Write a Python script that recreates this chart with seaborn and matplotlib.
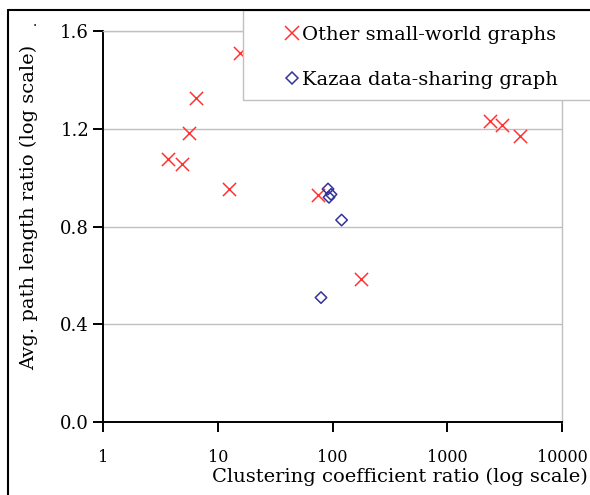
import matplotlib
matplotlib.use("Agg")
import matplotlib.pyplot as plt
import seaborn as sns
import pandas as pd
from matplotlib.patches import Rectangle
from matplotlib.lines import Line2D

# ---- data ----
other_cc = [3.7, 4.9, 5.6, 6.5, 12.5, 15.6, 75.5, 177, 2360, 2980, 4300]
other_pl = [1.077, 1.056, 1.182, 1.328, 0.954, 1.51, 0.93, 0.586, 1.234, 1.216, 1.171]
kazaa_cc = [91.4, 97.1, 93.2, 120, 79.4]
kazaa_pl = [0.954, 0.932, 0.920, 0.827, 0.510]
series_names = ["Other small-world graphs", "Kazaa data-sharing graph"]
x_ticks = [1, 10, 100, 1000, 10000]
x_ticklabels = ["1", "10", "100", "1000", "10000"]
y_ticks = [0.0, 0.4, 0.8, 1.2, 1.6]

df_other = pd.DataFrame({"cc": other_cc, "pl": other_pl})
df_kazaa = pd.DataFrame({"cc": kazaa_cc, "pl": kazaa_pl})

sns.set_theme(style="white")
plt.rcParams["font.family"] = ["DejaVu Serif"]
plt.rcParams["text.color"] = "black"

W, H = 590, 495
fig = plt.figure(figsize=(W / 100, H / 100), dpi=100)
ax = fig.add_axes([103 / W, 1 - 422.3 / H, (562 - 103) / W, (422.3 - 31) / H])

RED = "#FF3333"
BLUE = "#333399"

sns.scatterplot(data=df_other, x="cc", y="pl", ax=ax, marker="x", s=90,
                color=RED, linewidth=1.1, label=series_names[0], zorder=3)
sns.scatterplot(data=df_kazaa, x="cc", y="pl", ax=ax, marker="D", s=34,
                facecolors="none", edgecolor=BLUE, linewidth=1.1,
                label=series_names[1], zorder=3)

ax.set_xscale("log")
ax.set_xlim(1, 10000)
ax.set_ylim(0, 1.6)
ax.set_xticks(x_ticks)
ax.set_xticklabels(x_ticklabels)
ax.minorticks_off()
ax.set_yticks(y_ticks)
ax.set_yticklabels([f"{v:.1f}" for v in y_ticks])
ax.yaxis.grid(True, color="#C0C0C0", linewidth=1.0)
ax.xaxis.grid(False)
ax.set_axisbelow(True)

for s in ["left", "bottom"]:
    ax.spines[s].set_color("black")
    ax.spines[s].set_linewidth(1.4)
ax.spines["right"].set_color("#C0C0C0")
ax.spines["right"].set_linewidth(1.0)
ax.spines["top"].set_color("#C0C0C0")
ax.spines["top"].set_linewidth(1.0)

ax.tick_params(axis="both", which="major", direction="out", length=7, width=1.4,
               color="black", labelcolor="black", pad=3,
               left=True, bottom=True)
ax.tick_params(axis="y", labelsize=13)
ax.tick_params(axis="x", labelsize=11.5, pad=12)

ax.set_xlabel("Clustering coefficient ratio (log scale)", fontsize=14, color="black")
ax.set_ylabel("Avg. path length ratio (log scale)", fontsize=14, color="black")
ax.xaxis.set_label_coords(0.647, -0.115)
ax.yaxis.set_label_coords(-0.142, 0.548)
fig.text(35 / W, 1 - 22 / H, ".", fontsize=10, ha="center", va="center", color="black")

ax.get_legend().remove()

# legend box
fig.add_artist(Rectangle((243 / W, 1 - 100 / H), (600 - 243) / W, 90 / H,
                         transform=fig.transFigure, facecolor="white",
                         edgecolor="#C0C0C0", linewidth=1.0, zorder=4))
handles = [Line2D([], [], marker="x", color=RED, linestyle="none", markersize=9.5,
                  markeredgewidth=1.1),
           Line2D([], [], marker="D", markerfacecolor="none", markeredgecolor=BLUE,
                  linestyle="none", markersize=5.8, markeredgewidth=1.1)]
leg = fig.legend(handles, series_names, loc="upper left",
                 bbox_to_anchor=(275 / W, 1 - 16 / H), frameon=False,
                 fontsize=14, handlelength=0.7, handletextpad=0.2,
                 labelspacing=1.4, borderpad=0, labelcolor="black")
leg.set_zorder(5)

# outer frame (top and left)
fig.add_artist(Line2D([8 / W, 8 / W], [0, 1 - 10 / H], transform=fig.transFigure,
                      color="black", linewidth=1.5, zorder=6))
fig.add_artist(Line2D([8 / W, 1], [1 - 10 / H, 1 - 10 / H], transform=fig.transFigure,
                      color="black", linewidth=1.5, zorder=6))

fig.savefig("out.png", dpi=100, facecolor="white")
